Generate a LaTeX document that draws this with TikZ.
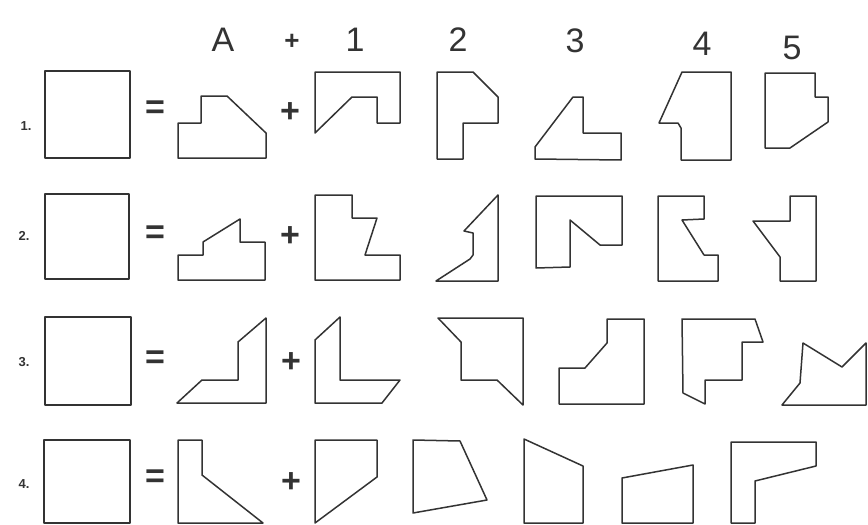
\documentclass[tikz,border=0pt]{standalone}
\usepackage{fontspec}
\setmainfont{Liberation Sans}
\begin{document}
\begin{tikzpicture}[x=1pt,y=-1pt,
  piece/.style={draw=black!80,line width=1.5pt,line join=round},
  head/.style={font=\fontsize{34}{34}\selectfont,text=black!80,inner sep=0},
  rowlab/.style={font=\bfseries\fontsize{13}{13}\selectfont,text=black!80,inner sep=0},
  eqsign/.style={font=\bfseries\fontsize{34}{34}\selectfont,text=black!80,inner sep=0},
  plussign/.style={font=\bfseries\fontsize{34}{34}\selectfont,text=black!80,inner sep=0}]
\useasboundingbox[fill=white] (0,0) rectangle (868,525);
% header
\node[head] (hA) at (223,40) {A};
\node[head,font=\bfseries\fontsize{26}{26}\selectfont] (hp) at (292,42) {+};
\node[head] (h1) at (355,40) {1};
\node[head] (h2) at (458,40) {2};
\node[head] (h3) at (575,41) {3};
\node[head] (h4) at (702,44) {4};
\node[head] (h5) at (792,48) {5};
% row labels
\node[rowlab] (r1) at (26,126) {1.};
\node[rowlab] (r2) at (24,236) {2.};
\node[rowlab] (r3) at (24,362) {3.};
\node[rowlab] (r4) at (24,484) {4.};
% equals and plus
\node[eqsign] (e1) at (155,110) {=};
\node[eqsign] (e2) at (155,235) {=};
\node[eqsign] (e3) at (155,360) {=};
\node[eqsign] (e4) at (155,479) {=};
\node[plussign] (p1) at (290,113) {+};
\node[plussign] (p2) at (290,237) {+};
\node[plussign] (p3) at (291,363) {+};
\node[plussign] (p4) at (291,483) {+};
% row 1
\draw[piece] (45,71) rectangle (130,158);
\draw[piece] (178,158) -- (178,123) -- (201,123) -- (201,96) -- (227,96) -- (266,133) -- (266,158) -- cycle;
\draw[piece] (315,72) -- (400,72) -- (400,123) -- (377,123) -- (377,97) -- (352,97) -- (315,133) -- cycle;
\draw[piece] (437,72) -- (473,72) -- (498,97) -- (498,123) -- (463,123) -- (463,159) -- (437,159) -- cycle;
\draw[piece] (535,159) -- (535,147) -- (573,97) -- (583,97) -- (583,133) -- (621,133) -- (621,160) -- cycle;
\draw[piece] (682,72) -- (731,72) -- (731,160) -- (681,160) -- (681,128) -- (678,123) -- (659,123) -- cycle;
\draw[piece] (765,73) -- (815,73) -- (815,97) -- (828,97) -- (828,122) -- (790,148) -- (765,148) -- cycle;
% row 2
\draw[piece] (45,194) rectangle (129,279);
\draw[piece] (178,280) -- (178,255) -- (203,255) -- (203,242) -- (240,219) -- (240,242) -- (265,242) -- (265,280) -- cycle;
\draw[piece] (315,195) -- (352,195) -- (352,218) -- (377,218) -- (365,255) -- (400,255) -- (400,280) -- (315,280) -- cycle;
\draw[piece] (436,281) -- (470,259) -- (473,255) -- (473,233) -- (464,231) -- (498,195) -- (498,281) -- cycle;
\draw[piece] (536,196) -- (622,196) -- (622,245) -- (600,245) -- (570,220) -- (570,267) -- (536,268) -- cycle;
\draw[piece] (658,196) -- (704,196) -- (704,219) -- (682,220) -- (704,255) -- (718,255) -- (718,281) -- (658,281) -- cycle;
\draw[piece] (790,196) -- (816,196) -- (816,281) -- (780,281) -- (780,257) -- (753,221) -- (790,221) -- cycle;
% row 3
\draw[piece] (45,317) rectangle (131,405);
\draw[piece] (177,403) -- (202,380) -- (238,380) -- (238,342) -- (266,318) -- (266,403) -- cycle;
\draw[piece] (315,403) -- (315,340) -- (340,317) -- (340,380) -- (400,380) -- (382,403) -- cycle;
\draw[piece] (438,318) -- (523,318) -- (523,405) -- (497,380) -- (461,380) -- (461,342) -- cycle;
\draw[piece] (607,319) -- (644,319) -- (644,404) -- (559,404) -- (559,368) -- (585,368) -- (607,343) -- cycle;
\draw[piece] (682,319) -- (755,319) -- (763,342) -- (742,342) -- (742,380) -- (705,380) -- (705,404) -- (683,393) -- cycle;
\draw[piece] (782,405) -- (800,383) -- (803,343) -- (842,367) -- (866,343) -- (866,405) -- cycle;
% row 4
\draw[piece] (44,440) rectangle (130,523);
\draw[piece] (178,523) -- (178,440) -- (202,440) -- (202,475) -- (263,523) -- cycle;
\draw[piece] (315,440) -- (377,440) -- (377,477) -- (315,523) -- cycle;
\draw[piece] (413,440) -- (460,441) -- (487,500) -- (413,513) -- cycle;
\draw[piece] (524,439) -- (583,466) -- (583,523) -- (524,523) -- cycle;
\draw[piece] (622,478) -- (693,465) -- (693,523) -- (622,523) -- cycle;
\draw[piece] (731,442) -- (816,442) -- (816,466) -- (755,481) -- (755,523) -- (731,523) -- cycle;
\end{tikzpicture}
\end{document}
